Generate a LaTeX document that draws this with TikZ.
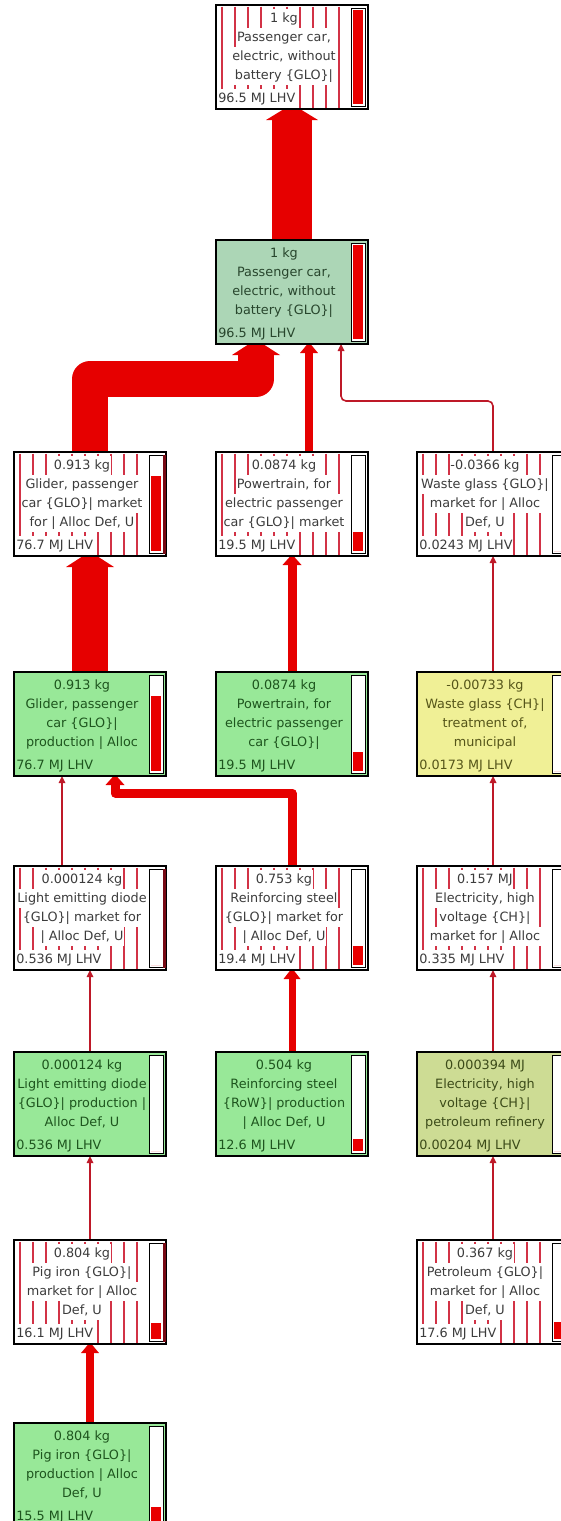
\documentclass[tikz,border=0pt]{standalone}
\usepackage{fontspec}
\setmainfont{DejaVu Sans}
\usetikzlibrary{calc,backgrounds}
\definecolor{rootfill}{RGB}{172,214,182}
\definecolor{greenfill}{RGB}{152,232,152}
\definecolor{yellowfill}{RGB}{240,240,150}
\definecolor{olivefill}{RGB}{205,220,148}
\definecolor{flowred}{RGB}{230,0,0}
\definecolor{thinred}{RGB}{190,25,40}
\definecolor{hatchred}{RGB}{210,50,70}
\definecolor{maroon}{RGB}{120,10,20}
\definecolor{mtext}{RGB}{60,60,60}
\definecolor{gtext}{RGB}{30,85,30}
\definecolor{rtext}{RGB}{40,70,45}
\definecolor{ytext}{RGB}{85,85,25}
\definecolor{otext}{RGB}{60,75,25}
\definecolor{barred}{RGB}{232,0,0}
\tikzset{
 pbox/.style={draw=black, line width=1.6pt, minimum width=152pt, minimum height=104pt, inner sep=0pt, outer sep=0pt},
 hatchline/.style={draw=hatchred, line width=1.1pt},
 barframe/.style={draw=black, line width=1pt, fill=white},
 stripe/.style={draw=maroon, line width=2.4pt},
 tl/.style={font=\fontsize{12.8}{15}\selectfont, inner xsep=0.6pt, inner ysep=0pt, text height=13.5pt, text depth=5.5pt},
 flow/.style={draw=flowred, line width=#1, line join=round},
 thinflow/.style={draw=thinred, line width=1.6pt, rounded corners=5pt},
}
% #1 name #2 x #3 y #4 fill #5 hatch #6 fraction #7 bottom text #8 text colour
\newcommand\pbox[8]{%
 \node[pbox, fill=#4, anchor=north west] (#1) at (#2,#3) {};
 \ifnum#5=1\relax
  \foreach \k in {0,...,9}{\draw[hatchline] ($(#1.north west)+(6+13*\k,1.5)$) -- ($(#1.north west)+(6+13*\k,102.5)$);}
  \def\tbg{white}%
 \else
  \def\tbg{none}%
 \fi
 \def\tcol{#8}%
 \draw[barframe] ($(#1.north west)+(135,3)$) rectangle ($(#1.north west)+(149,101)$);
 \fill[barred] ($(#1.north west)+(137,{99-94*#6})$) rectangle ($(#1.north west)+(147,99)$);
 \node[tl, fill=\tbg, text=\tcol, anchor=west] at ($(#1.north west)+(1.5,93)$) {#7};
}
\newcommand\plines[5]{%
 \node[tl, fill=\tbg, text=\tcol] at ($(#1.north west)+(68,13)$) {#2};
 \node[tl, fill=\tbg, text=\tcol] at ($(#1.north west)+(68,32)$) {#3};
 \node[tl, fill=\tbg, text=\tcol] at ($(#1.north west)+(68,51)$) {#4};
 \node[tl, fill=\tbg, text=\tcol] at ($(#1.north west)+(68,70)$) {#5};
}
\newcommand\darkedge[1]{\draw[stripe] ($(#1.north west)+(150.6,2.5)$) -- ($(#1.north west)+(150.6,101.5)$);}
% #1 anchor #2 dx #3 base half width #4 top half width #5 height #6 colour
\newcommand\ahead[6]{%
 \fill[#6] ($(#1)+({#2-#3},#5)$) -- ($(#1)+({#2-#4},0)$) -- ($(#1)+({#2+#4},0)$) -- ($(#1)+({#2+#3},#5)$) -- cycle;}
\begin{document}
\begin{tikzpicture}[x=1pt,y=-1pt]
\useasboundingbox (0,0) rectangle (561,1521);
% row 0
\pbox{n0}{216}{5}{white}{1}{1}{96.5 MJ LHV}{mtext}
\plines{n0}{1 kg}{Passenger car,}{electric, without}{battery \{GLO\}|}
% row 1
\pbox{n1}{216}{240}{rootfill}{0}{1}{96.5 MJ LHV}{rtext}
\plines{n1}{1 kg}{Passenger car,}{electric, without}{battery \{GLO\}|}
% row 2
\pbox{glm}{14}{452}{white}{1}{0.795}{76.7 MJ LHV}{mtext}
\plines{glm}{0.913 kg}{Glider, passenger}{car \{GLO\}| market}{for | Alloc Def, U}
\darkedge{glm}
\pbox{ptm}{216}{452}{white}{1}{0.202}{19.5 MJ LHV}{mtext}
\plines{ptm}{0.0874 kg}{Powertrain, for}{electric passenger}{car \{GLO\}| market}
\pbox{wgm}{417}{452}{white}{1}{0}{0.0243 MJ LHV}{mtext}
\plines{wgm}{-0.0366 kg}{Waste glass \{GLO\}|}{market for | Alloc}{Def, U}
% row 3
\pbox{glp}{14}{672}{greenfill}{0}{0.795}{76.7 MJ LHV}{gtext}
\plines{glp}{0.913 kg}{Glider, passenger}{car \{GLO\}|}{production | Alloc}
\pbox{ptp}{216}{672}{greenfill}{0}{0.202}{19.5 MJ LHV}{gtext}
\plines{ptp}{0.0874 kg}{Powertrain, for}{electric passenger}{car \{GLO\}|}
\pbox{wgt}{417}{672}{yellowfill}{0}{0}{0.0173 MJ LHV}{ytext}
\plines{wgt}{-0.00733 kg}{Waste glass \{CH\}|}{treatment of,}{municipal}
% row 4
\pbox{ledm}{14}{866}{white}{1}{0}{0.536 MJ LHV}{mtext}
\plines{ledm}{0.000124 kg}{Light emitting diode}{\{GLO\}| market for}{| Alloc Def, U}
\darkedge{ledm}
\pbox{stm}{216}{866}{white}{1}{0.201}{19.4 MJ LHV}{mtext}
\plines{stm}{0.753 kg}{Reinforcing steel}{\{GLO\}| market for}{| Alloc Def, U}
\pbox{elm}{417}{866}{white}{1}{0}{0.335 MJ LHV}{mtext}
\plines{elm}{0.157 MJ}{Electricity, high}{voltage \{CH\}|}{market for | Alloc}
% row 5
\pbox{ledp}{14}{1052}{greenfill}{0}{0}{0.536 MJ LHV}{gtext}
\plines{ledp}{0.000124 kg}{Light emitting diode}{\{GLO\}| production |}{Alloc Def, U}
\pbox{stp}{216}{1052}{greenfill}{0}{0.131}{12.6 MJ LHV}{gtext}
\plines{stp}{0.504 kg}{Reinforcing steel}{\{RoW\}| production}{| Alloc Def, U}
\pbox{elp}{417}{1052}{olivefill}{0}{0}{0.00204 MJ LHV}{otext}
\plines{elp}{0.000394 MJ}{Electricity, high}{voltage \{CH\}|}{petroleum refinery}
% row 6
\pbox{pim}{14}{1240}{white}{1}{0.167}{16.1 MJ LHV}{mtext}
\plines{pim}{0.804 kg}{Pig iron \{GLO\}|}{market for | Alloc}{Def, U}
\darkedge{pim}
\pbox{pet}{417}{1240}{white}{1}{0.182}{17.6 MJ LHV}{mtext}
\plines{pet}{0.367 kg}{Petroleum \{GLO\}|}{market for | Alloc}{Def, U}
% row 7
\pbox{pip}{14}{1423}{greenfill}{0}{0.161}{15.5 MJ LHV}{gtext}
\plines{pip}{0.804 kg}{Pig iron \{GLO\}|}{production | Alloc}{Def, U}
% connectors
\begin{scope}[on background layer]
\draw[flow=40pt] (n1.north) -- ($(n0.south)+(0,11)$);
\ahead{n0.south}{0}{26}{8}{11}{flowred}
\draw[flow=36pt] (glm.north) |- ($(n1.south)+(-36,35)$) -- ($(n1.south)+(-36,11)$);
\ahead{n1.south}{-36}{24}{7}{11}{flowred}
\draw[flow=8pt] ($(ptm.north)+(17,0)$) -- ($(n1.south)+(17,9)$);
\ahead{n1.south}{17}{9}{1.5}{9}{flowred}
\draw[thinflow] (wgm.north) |- ($(n1.south)+(49,57)$) -- ($(n1.south)+(49,7)$);
\ahead{n1.south}{49}{3.5}{0}{7}{thinred}
\draw[flow=36pt] (glp.north) -- ($(glm.south)+(0,11)$);
\ahead{glm.south}{0}{24}{7}{11}{flowred}
\draw[flow=9pt] (ptp.north) -- ($(ptm.south)+(0,9)$);
\ahead{ptm.south}{0}{9.5}{1.5}{9}{flowred}
\draw[thinflow] (wgt.north) -- ($(wgm.south)+(0,7)$);
\ahead{wgm.south}{0}{3.5}{0}{7}{thinred}
\draw[thinflow] ($(ledm.north)+(-28,0)$) -- ($(glp.south)+(-28,7)$);
\ahead{glp.south}{-28}{3.5}{0}{7}{thinred}
\draw[flow=9pt] (stm.north) |- ($(glp.south)+(25,17)$) -- ($(glp.south)+(25,9)$);
\ahead{glp.south}{25}{9.5}{1.5}{9}{flowred}
\draw[thinflow] (elm.north) -- ($(wgt.south)+(0,7)$);
\ahead{wgt.south}{0}{3.5}{0}{7}{thinred}
\draw[thinflow] (ledp.north) -- ($(ledm.south)+(0,7)$);
\ahead{ledm.south}{0}{3.5}{0}{7}{thinred}
\draw[flow=7pt] (stp.north) -- ($(stm.south)+(0,9)$);
\ahead{stm.south}{0}{8.5}{1.5}{9}{flowred}
\draw[thinflow] (elp.north) -- ($(elm.south)+(0,7)$);
\ahead{elm.south}{0}{3.5}{0}{7}{thinred}
\draw[thinflow] (pim.north) -- ($(ledp.south)+(0,7)$);
\ahead{ledp.south}{0}{3.5}{0}{7}{thinred}
\draw[thinflow] (pet.north) -- ($(elp.south)+(0,7)$);
\ahead{elp.south}{0}{3.5}{0}{7}{thinred}
\draw[flow=8pt] (pip.north) -- ($(pim.south)+(0,9)$);
\ahead{pim.south}{0}{9}{1.5}{9}{flowred}
\end{scope}
\end{tikzpicture}
\end{document}
